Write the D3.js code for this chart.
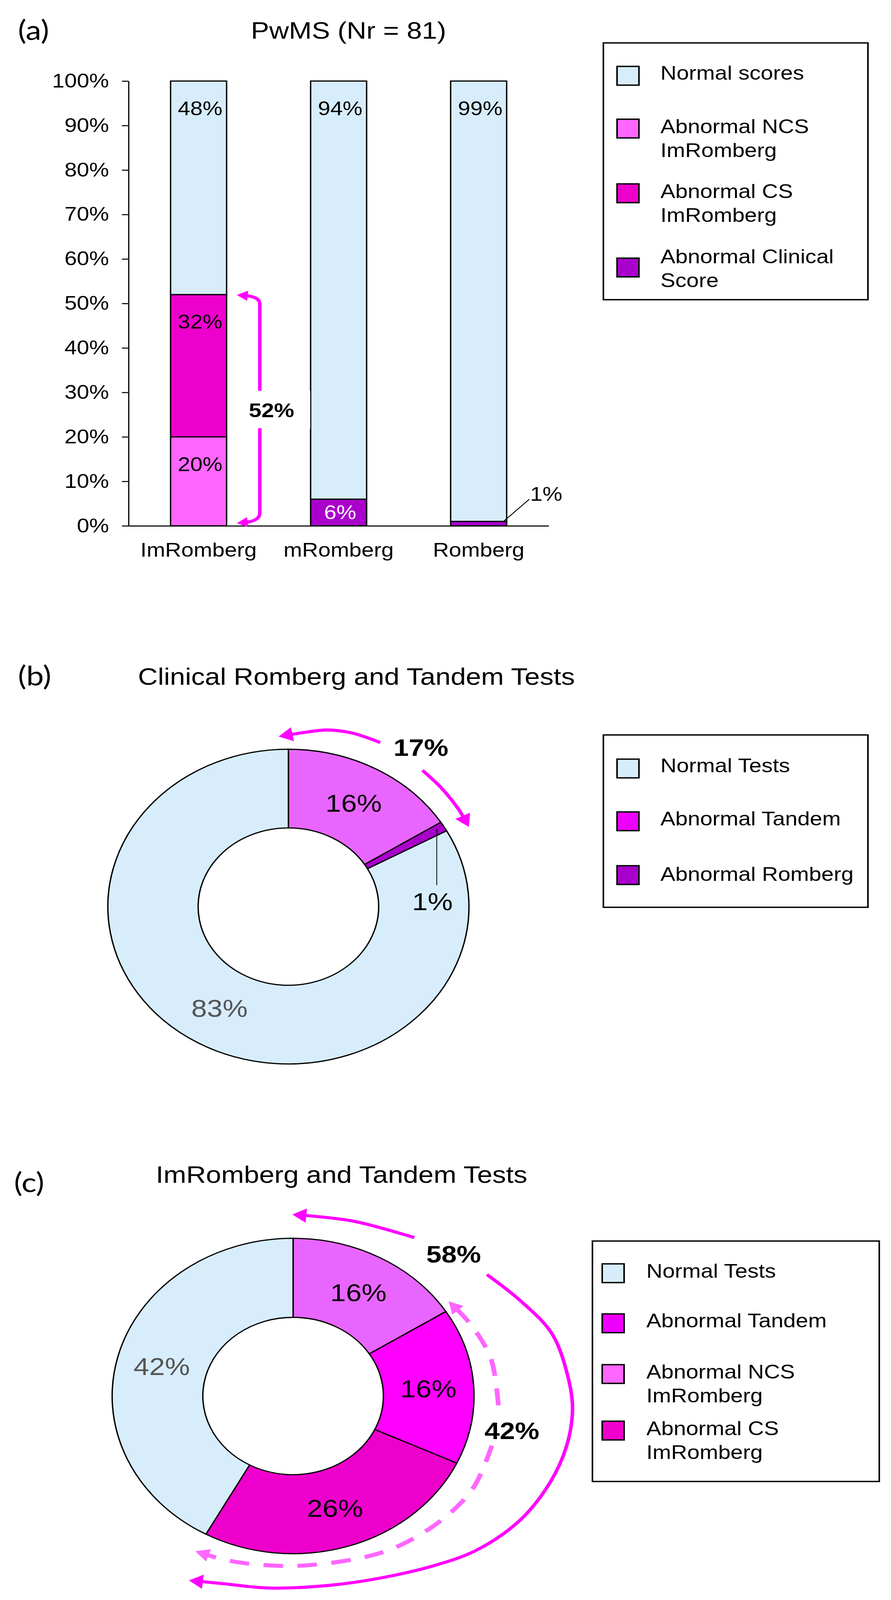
<!doctype html>
<html>
<head>
<script src="https://d3js.org/d3.v7.min.js"></script>
<style>
  html, body { margin: 0; padding: 0; background: #fff; overflow: hidden; }
  svg { display: block; width: 100vw; height: 100vh; }
  text { font-family: "Liberation Sans", Arial, sans-serif; }
</style>
</head>
<body>
<svg id="fig" viewBox="0 0 2280 4698" preserveAspectRatio="none"></svg>
<script>
// ---------- data ----------
var barCategories = ["ImRomberg", "mRomberg", "Romberg"];
var ncsImRomberg = [20, 0, 0];
var csImRomberg = [32, 0, 0];
var abnormalClinical = [0, 6, 1];
var normalScores = [48, 94, 99];
var yTickValues = [0, 10, 20, 30, 40, 50, 60, 70, 80, 90, 100];

var pieBKeys = ["Abnormal Tandem", "Abnormal Romberg", "Normal Tests"];
var pieBValues = [16, 1, 83];

var pieCKeys = ["Abnormal NCS ImRomberg", "Abnormal Tandem", "Abnormal CS ImRomberg", "Normal Tests"];
var pieCValues = [16, 16, 26, 42];

var legendALabels = [["Normal scores"], ["Abnormal NCS", "ImRomberg"], ["Abnormal CS", "ImRomberg"], ["Abnormal Clinical", "Score"]];
var legendBLabels = [["Normal Tests"], ["Abnormal Tandem"], ["Abnormal Romberg"]];
var legendCLabels = [["Normal Tests"], ["Abnormal Tandem"], ["Abnormal NCS", "ImRomberg"], ["Abnormal CS", "ImRomberg"]];

// ---------- colours ----------
var LIGHT = "#d7edfc", NCS = "#ff66ff", CS = "#ee00cc", CLIN = "#aa00cc",
    LILAC = "#e866ff", MAG = "#ff00ff", TANDEM_SW = "#ee00ff";

// the figure is laid out on a 2280x4698 page and fitted to the window
var svg = d3.select("#fig");
svg.append("rect").attr("width", 2280).attr("height", 4698).attr("fill", "#fff");

// arrow heads
var defs = svg.append("defs");
function marker(id, color, len, half, ref) {
  defs.append("marker").attr("id", id)
    .attr("markerUnits", "userSpaceOnUse")
    .attr("viewBox", (-len - 4) + " " + (-half - 4) + " " + (len + 8) + " " + (2 * half + 8))
    .attr("markerWidth", len + 8).attr("markerHeight", 2 * half + 8)
    .attr("refX", -ref).attr("refY", 0).attr("orient", "auto")
    .append("path").attr("d", "M0,0L" + (-len) + "," + (-half) + "L" + (-len) + "," + half + "Z")
    .attr("fill", color);
}
marker("headSolid", MAG, 36, 21, 30);
marker("headDash", NCS, 36, 19, 30);
marker("headSmall", MAG, 28, 15, 20);

function pol(cx, cy, deg, r) {
  var a = deg * Math.PI / 180;
  return [cx + r * Math.sin(a), cy - r * Math.cos(a)];
}
var curve = d3.line().curve(d3.curveCatmullRom);

function panelTitle(letter, x, y, title, tx, ty) {
  svg.append("text").attr("x", x).attr("y", y).text(letter)
    .style("font-family", "Lato, 'Open Sans', sans-serif").attr("font-size", 80);
  svg.append("text").attr("x", tx).attr("y", ty).attr("text-anchor", "middle")
    .attr("font-size", 70).text(title);
}

function legend(box, labels, colors, rows, swX, txtX) {
  var g = svg.append("g");
  g.append("rect").attr("x", box[0]).attr("y", box[1]).attr("width", box[2]).attr("height", box[3])
    .attr("fill", "#fff").attr("stroke", "#000").attr("stroke-width", 4);
  labels.forEach(function(lines, i) {
    g.append("rect").attr("x", swX).attr("y", rows[i][0]).attr("width", 56).attr("height", 55)
      .attr("fill", colors[i]).attr("stroke", "#000").attr("stroke-width", 4);
    var t = g.append("text").attr("x", txtX).attr("y", rows[i][1]).attr("font-size", 57);
    lines.forEach(function(l, j) {
      t.append("tspan").attr("x", txtX).attr("dy", j ? 70 : 0).text(l);
    });
  });
}

// ================= panel (a) =================
panelTitle("(a)", 46, 117, "PwMS (Nr = 81)", 892, 114);

var x = d3.scaleBand().domain(barCategories).range([329, 1404]).paddingInner(0.6).paddingOuter(0.3);
var y = d3.scaleLinear().domain([0, 100]).range([1544, 238]);

var barRows = barCategories.map(function(c, i) {
  return { cat: c, ncs: ncsImRomberg[i], cs: csImRomberg[i], clin: abnormalClinical[i], normal: normalScores[i] };
});
var barKeys = ["ncs", "cs", "clin", "normal"];
var barColor = { ncs: NCS, cs: CS, clin: CLIN, normal: LIGHT };
var series = d3.stack().keys(barKeys)(barRows);

var gA = svg.append("g");
series.forEach(function(s) {
  gA.selectAll(null).data(s.filter(function(d) { return d[1] > d[0]; })).join("rect")
    .attr("x", function(d) { return x(d.data.cat); })
    .attr("width", x.bandwidth())
    .attr("y", function(d) { return y(d[1]); })
    .attr("height", function(d) { return y(d[0]) - y(d[1]); })
    .attr("fill", barColor[s.key]).attr("stroke", "#000").attr("stroke-width", 3.5);
});

// segment labels
series.forEach(function(s) {
  s.forEach(function(d) {
    var v = d[1] - d[0];
    if (v < 2) return;
    var top = y(d[1]), h = y(d[0]) - top;
    gA.append("text").attr("x", x(d.data.cat) + x.bandwidth() / 2 + 4)
      .attr("y", top + Math.min(h / 2, 80)).attr("dy", "0.35em")
      .attr("text-anchor", "middle").attr("font-size", 57)
      .attr("fill", s.key === "clin" ? "#fff" : "#000")
      .text(v + "%");
  });
});

// 1% callout on Romberg
var rb = x("Romberg") + x.bandwidth();
var y1 = y(abnormalClinical[2]);
gA.append("line").attr("x1", rb - 8).attr("y1", y1).attr("x2", rb + 58).attr("y2", y1 - 65)
  .attr("stroke", "#000").attr("stroke-width", 2.5);
gA.append("text").attr("x", rb + 60).attr("y", y1 - 60).attr("font-size", 57)
  .text(abnormalClinical[2] + "%");

// axes
var yAxis = svg.append("g").attr("transform", "translate(329,0)")
  .call(d3.axisLeft(y).tickValues(yTickValues).tickFormat(function(d) { return d + "%"; })
    .tickSize(17).tickSizeOuter(0).tickPadding(33));
var xAxis = svg.append("g").attr("transform", "translate(0,1544)")
  .call(d3.axisBottom(x).tickSize(0).tickSizeOuter(0).tickPadding(50));
[yAxis, xAxis].forEach(function(a) {
  a.selectAll("path,line").attr("stroke", "#000").attr("stroke-width", 3);
  a.selectAll("text").attr("font-size", 57).attr("fill", "#000")
    .style("font-family", "'Liberation Sans', Arial, sans-serif");
});

// 52% bracket
var imR = x("ImRomberg") + x.bandwidth();
var bx = imR + 85, top52 = y(ncsImRomberg[0] + csImRomberg[0]), bot0 = y(0);
var mid = (top52 + bot0) / 2;
svg.append("rect").attr("x", imR + 30).attr("y", mid - 57)
  .attr("width", x("mRomberg") - imR - 31).attr("height", 112).attr("fill", "#fff");
var p1 = d3.path();
p1.moveTo(bx, mid - 57); p1.lineTo(bx, top52 + 28);
p1.quadraticCurveTo(bx, top52 + 6, imR + 46, top52 + 3);
var p2 = d3.path();
p2.moveTo(bx, mid + 53); p2.lineTo(bx, bot0 - 38);
p2.quadraticCurveTo(bx, bot0 - 14, imR + 46, bot0 - 10);
[p1, p2].forEach(function(p) {
  svg.append("path").attr("d", p.toString()).attr("fill", "none")
    .attr("stroke", MAG).attr("stroke-width", 9).attr("marker-end", "url(#headSmall)");
});
svg.append("text").attr("x", bx + 30).attr("y", mid).attr("dy", "0.35em")
  .attr("text-anchor", "middle").attr("font-size", 58).attr("font-weight", "bold")
  .text((ncsImRomberg[0] + csImRomberg[0]) + "%");

legend([1544, 126, 677, 754], legendALabels, [LIGHT, NCS, CS, CLIN],
  [[195, 234], [350, 391], [540, 581], [758, 773]], 1579, 1690);

// ================= donut helper =================
function donut(cx, cy, keys, values, colors, R, r) {
  var data = keys.map(function(k, i) { return { key: k, value: values[i] }; });
  var arcs = d3.pie().sort(null).value(function(d) { return d.value; })(data);
  var arc = d3.arc().innerRadius(r).outerRadius(R);
  var g = svg.append("g").attr("transform", "translate(" + cx + "," + cy + ")");
  g.selectAll("path").data(arcs).join("path")
    .attr("d", arc).attr("fill", function(d) { return colors[d.data.key]; })
    .attr("stroke", "#000").attr("stroke-width", 3.5);
  return { g: g, arcs: arcs, arc: arc };
}
function arrowPath(cx, cy, nodes, dashed) {
  var pts = nodes.map(function(n) { return pol(cx, cy, n[0], n[1]); });
  var p = svg.append("path").attr("d", curve(pts)).attr("fill", "none")
    .attr("stroke", dashed ? NCS : MAG).attr("stroke-width", dashed ? 12 : 9)
    .attr("marker-end", dashed ? "url(#headDash)" : "url(#headSolid)");
  if (dashed) p.attr("stroke-dasharray", "50,37");
}
function boldAt(cx, cy, deg, r, txt) {
  var p = pol(cx, cy, deg, r);
  svg.append("text").attr("x", p[0]).attr("y", p[1]).attr("dy", "0.35em")
    .attr("text-anchor", "middle").attr("font-size", 70).attr("font-weight", "bold").text(txt);
}

// ================= panel (b) =================
panelTitle("(b)", 46, 2013, "Clinical Romberg and Tandem Tests", 912, 2011);
var bcx = 738, bcy = 2662;
var dB = donut(bcx, bcy, pieBKeys, pieBValues,
  { "Abnormal Tandem": LILAC, "Abnormal Romberg": CLIN, "Normal Tests": LIGHT }, 462, 231);
dB.arcs.forEach(function(d) {
  if (d.data.value < 2) return;
  var c = dB.arc.centroid(d);
  dB.g.append("text").attr("x", c[0]).attr("y", c[1]).attr("dy", "0.35em")
    .attr("text-anchor", "middle").attr("font-size", 72)
    .attr("fill", d.data.key === "Normal Tests" ? "#555" : "#000").text(d.data.value + "%");
});
// 1% leader
var rom = dB.arcs[1], romMid = (rom.startAngle + rom.endAngle) / 2 * 180 / Math.PI;
var lp = pol(bcx, bcy, romMid, 448);
svg.append("line").attr("x1", lp[0] - 6).attr("y1", lp[1]).attr("x2", lp[0] - 6).attr("y2", lp[1] + 165)
  .attr("stroke", "#000").attr("stroke-width", 2);
svg.append("text").attr("x", lp[0] - 17).attr("y", lp[1] + 213).attr("dy", "0.35em")
  .attr("text-anchor", "middle").attr("font-size", 72).text(pieBValues[1] + "%");

arrowPath(bcx, bcy, [[26, 536], [17.6, 535], [10.8, 528], [4.1, 512], [0.5, 505]]);
arrowPath(bcx, bcy, [[40.6, 527], [48.2, 524], [56.3, 521], [59.8, 519]]);
boldAt(bcx, bcy, 36, 577, (pieBValues[0] + pieBValues[1]) + "%");

legend([1544, 2158, 677, 506], legendBLabels, [LIGHT, TANDEM_SW, CLIN],
  [[2229, 2267], [2384, 2424], [2542, 2586]], 1579, 1690);

// ================= panel (c) =================
panelTitle("(c)", 36, 3500, "ImRomberg and Tandem Tests", 874, 3473);
var ccx = 750, ccy = 4099;
var dC = donut(ccx, ccy, pieCKeys, pieCValues,
  { "Abnormal NCS ImRomberg": LILAC, "Abnormal Tandem": MAG, "Abnormal CS ImRomberg": CS, "Normal Tests": LIGHT }, 463, 231);
dC.arcs.forEach(function(d) {
  var c = dC.arc.centroid(d);
  dC.g.append("text").attr("x", c[0]).attr("y", c[1]).attr("dy", "0.35em")
    .attr("text-anchor", "middle").attr("font-size", 72)
    .attr("fill", d.data.key === "Normal Tests" ? "#555" : "#000").text(d.data.value + "%");
});

arrowPath(ccx, ccy, [[33.7, 559], [16.7, 536], [3, 531]]);
arrowPath(ccx, ccy, [[54.3, 611], [64.7, 647], [74.5, 687], [85, 705], [93, 716], [102, 715],
  [111, 705], [122, 686], [134, 652], [145, 612], [158, 578], [170, 564], [186, 567], [197.8, 579], [203.5, 594]]);
arrowPath(ccx, ccy, [[93, 526], [78, 518], [66, 502], [58.5, 490]], true);
arrowPath(ccx, ccy, [[106, 529], [120, 534], [133, 527], [148, 517], [160, 506], [180, 499], [197, 509], [205.5, 516]], true);
boldAt(ccx, ccy, 44.6, 585, (100 - pieCValues[3]) + "%");
boldAt(ccx, ccy, 100.3, 569, pieCValues[3] + "%");

legend([1516, 3644, 734, 706], legendCLabels, [LIGHT, TANDEM_SW, NCS, CS],
  [[3711, 3752], [3858, 3898], [4007, 4048], [4173, 4214]], 1541, 1654);
</script>
</body>
</html>
